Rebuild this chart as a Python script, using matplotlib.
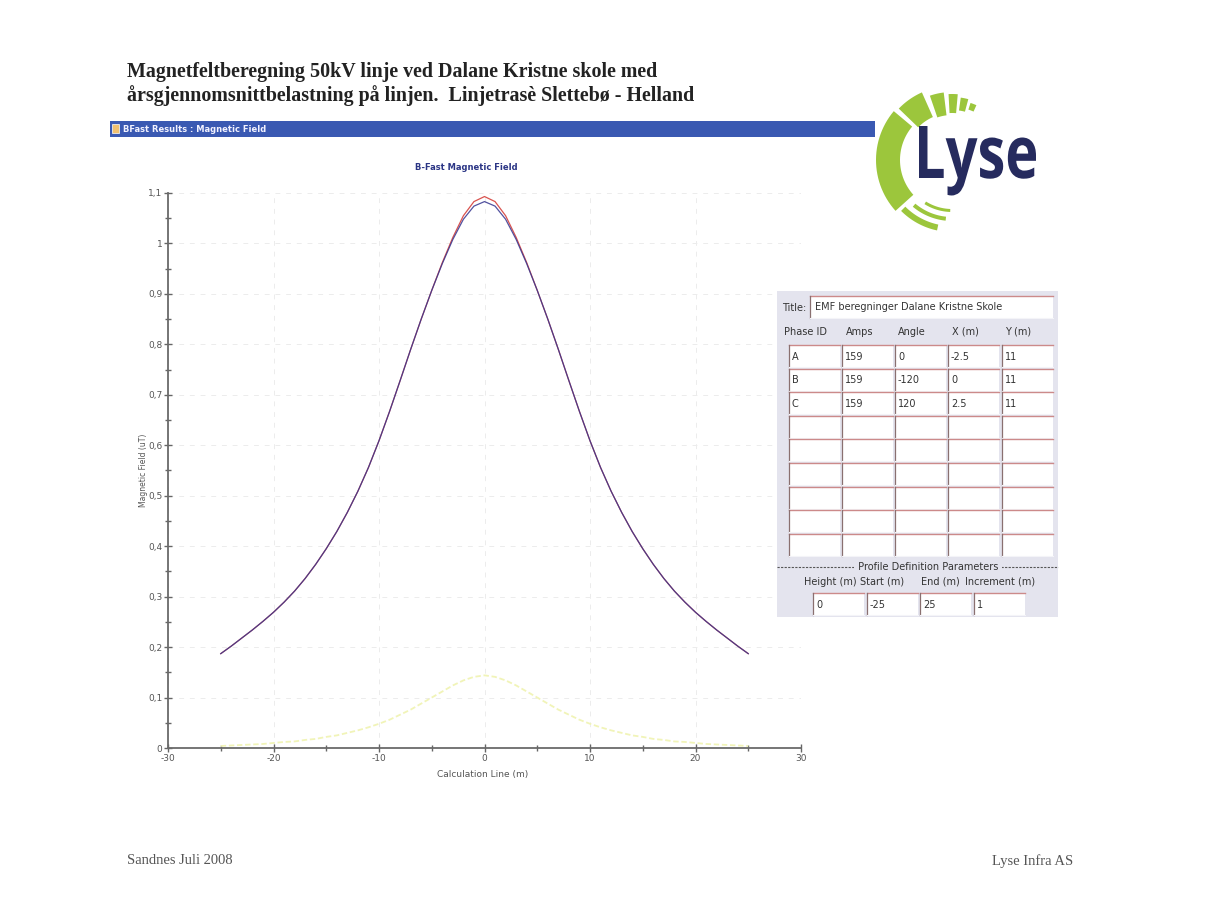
import numpy as np
import matplotlib
matplotlib.use("Agg")
import matplotlib.pyplot as plt
from matplotlib.patches import Rectangle, Polygon, PathPatch
from matplotlib.textpath import TextPath
from matplotlib.font_manager import FontProperties
from matplotlib.transforms import Affine2D

# ---- data ----
x_m = list(range(-25, 26))

b_red = [0.187, 0.202, 0.218, 0.234, 0.251, 0.269, 0.289, 0.311, 0.336, 0.364,
         0.395, 0.429, 0.467, 0.509, 0.556, 0.609, 0.667, 0.728, 0.790, 0.850,
         0.907, 0.962, 1.012, 1.055, 1.083, 1.093, 1.083, 1.055, 1.012, 0.962,
         0.907, 0.850, 0.790, 0.728, 0.667, 0.609, 0.556, 0.509, 0.467, 0.429,
         0.395, 0.364, 0.336, 0.311, 0.289, 0.269, 0.251, 0.234, 0.218, 0.202,
         0.187]

b_blue = [0.187, 0.202, 0.218, 0.234, 0.251, 0.269, 0.289, 0.311, 0.336, 0.364,
          0.395, 0.429, 0.467, 0.509, 0.556, 0.609, 0.667, 0.728, 0.790, 0.850,
          0.907, 0.960, 1.008, 1.048, 1.074, 1.083, 1.074, 1.048, 1.008, 0.960,
          0.907, 0.850, 0.790, 0.728, 0.667, 0.609, 0.556, 0.509, 0.467, 0.429,
          0.395, 0.364, 0.336, 0.311, 0.289, 0.269, 0.251, 0.234, 0.218, 0.202,
          0.187]

b_yellow = [0.004, 0.005, 0.006, 0.007, 0.008, 0.010, 0.012, 0.013, 0.016, 0.018,
            0.022, 0.025, 0.030, 0.035, 0.041, 0.048, 0.056, 0.066, 0.076, 0.088,
            0.100, 0.112, 0.124, 0.134, 0.141, 0.144, 0.141, 0.134, 0.124, 0.112,
            0.100, 0.088, 0.076, 0.066, 0.056, 0.048, 0.041, 0.035, 0.030, 0.025,
            0.022, 0.018, 0.016, 0.013, 0.012, 0.010, 0.008, 0.007, 0.006, 0.005,
            0.004]

x_ticks = [-30, -20, -10, 0, 10, 20, 30]
y_ticks = [0, 0.1, 0.2, 0.3, 0.4, 0.5, 0.6, 0.7, 0.8, 0.9, 1.0, 1.1]

page_title = ["Magnetfeltberegning 50kV linje ved Dalane Kristne skole med",
              "årsgjennomsnittbelastning på linjen.  Linjetrasè Slettebø - Helland"]
footer_left = "Sandnes Juli 2008"
footer_right = "Lyse Infra AS"

calc_title = "EMF beregninger Dalane Kristne Skole"
col_heads = ["Phase ID", "Amps", "Angle", "X (m)", "Y (m)"]
phase_ids = ["A", "B", "C"]
amps = ["159", "159", "159"]
angles = ["0", "-120", "120"]
x_pos = ["-2.5", "0", "2.5"]
y_pos = ["11", "11", "11"]
profile_heads = ["Height (m)", "Start (m)", "End (m)", "Increment (m)"]
profile_vals = ["0", "-25", "25", "1"]

W, H = 1216, 908
fig = plt.figure(figsize=(W / 100, H / 100), dpi=100)
fig.patch.set_facecolor("white")

# ---- chart ----
ax = fig.add_axes([168 / W, 1 - 748 / H, 633 / W, 555 / H])
ax.plot(x_m, b_yellow, color="#f1f4b8", lw=1.3, dashes=(3, 1.5))
ax.plot(x_m, b_red, color="#d9534f", lw=0.9)
ax.plot(x_m, b_blue, color="#34348f", lw=0.9, alpha=0.85)

ax.set_xlim(-30, 30)
ax.set_ylim(0, 1.1)
ax.set_xticks(x_ticks)
ax.set_xticklabels([str(v) for v in x_ticks])
ax.set_yticks(y_ticks)
ax.set_yticklabels([("%g" % round(v, 2)).replace(".", ",") for v in y_ticks])
ax.set_xticks(np.arange(-25, 30, 10), minor=True)
ax.set_yticks(np.arange(0.05, 1.1, 0.1), minor=True)
ax.tick_params(which="major", direction="inout", length=6, width=1, colors="#666666",
               labelsize=6.5, labelcolor="#555555", pad=1)
ax.tick_params(which="minor", direction="inout", length=5, width=1, colors="#666666")
for s in ["top", "right"]:
    ax.spines[s].set_visible(False)
for s in ["left", "bottom"]:
    ax.spines[s].set_color("#6a6a6a")
    ax.spines[s].set_linewidth(1.3)
ax.grid(True, which="major", color="#ececec", lw=0.7, linestyle=(0, (5, 6)))
ax.set_axisbelow(True)

fig.text(143 / W, 1 - 470 / H, "Magnetic Field (uT)", rotation=90, fontsize=5.5,
         color="#555555", ha="center", va="center")
fig.text(483 / W, 1 - 775 / H, "Calculation Line (m)", fontsize=6.5,
         color="#555555", ha="center", va="center")

# ---- overlay in page pixels ----
ov = fig.add_axes([0, 0, 1, 1], zorder=5)
ov.set_xlim(0, W)
ov.set_ylim(H, 0)
ov.axis("off")
ov.patch.set_alpha(0)

ov.text(127, 72, page_title[0], fontsize=14.4, family="Liberation Serif",
        weight="bold", color="#222222", va="center")
ov.text(127, 96, page_title[1], fontsize=14.4, family="Liberation Serif",
        weight="bold", color="#222222", va="center")
ov.text(127, 861, footer_left, fontsize=10.5, family="Liberation Serif",
        color="#555555", va="center")
ov.text(1073, 861, footer_right, fontsize=10.5, family="Liberation Serif",
        color="#555555", va="center", ha="right")

# window bar
ov.add_patch(Rectangle((110, 121), 765, 16, fc="#3a59b2", ec="none"))
ov.add_patch(Rectangle((112, 124), 7, 9, fc="#f0c070", ec="white", lw=0.5))
ov.text(123, 129.5, "BFast Results : Magnetic Field", fontsize=6, weight="bold",
        color="#f2f2ff", va="center")
ov.text(466, 168, "B-Fast Magnetic Field", fontsize=6, weight="bold",
        color="#2b3585", ha="center", va="center")


# logo
def sector(cx, cy, r0, r1, a0, a1):
    t = np.radians(np.linspace(a0, a1, 30))
    outer = np.column_stack([cx + r1 * np.cos(t), cy - r1 * np.sin(t)])
    inner = np.column_stack([cx + r0 * np.cos(t[::-1]), cy - r0 * np.sin(t[::-1])])
    return Polygon(np.vstack([outer, inner]), closed=True, fc="#9cc63c", ec="none")


cx, cy = 952, 160
for r0, r1, a0, a1 in [(52, 76, 140, 222), (47, 74, 114, 136), (45, 68, 97, 109),
                       (47, 66, 85, 93), (50, 63, 75, 82), (53, 60, 66, 72),
                       (66, 72, 225, 258), (57, 61, 230, 264), (49, 52, 238, 268)]:
    ov.add_patch(sector(cx, cy, r0, r1, a0, a1))

fp = FontProperties(family="Open Sans", weight="bold")
tp = TextPath((0, 0), "Lyse", size=1, prop=fp)
ext = tp.get_extents()
capL = TextPath((0, 0), "L", size=1, prop=fp).get_extents().height
sx = 117 / ext.width
sy = 52 / capL
tr = Affine2D().translate(-ext.x0, 0).scale(sx, -sy).translate(919, 178)
ov.add_patch(PathPatch(tr.transform_path(tp), fc="#262b5e", ec="none"))

# input table panel
ov.add_patch(Rectangle((777, 291), 281, 326, fc="#e4e4ee", ec="none"))


def cell(x, y, w, h, txt=""):
    ov.add_patch(Rectangle((x, y), w, h, fc="white", ec="none"))
    ov.plot([x, x + w], [y, y], color="#cc8a8a", lw=1.0)
    ov.plot([x, x], [y, y + h], color="#8a7070", lw=0.9)
    ov.plot([x, x + w], [y + h, y + h], color="#f4f4f8", lw=0.8)
    if txt:
        ov.text(x + 3, y + h / 2 + 0.5, txt, fontsize=7, color="#333333", va="center")


ov.text(782, 308, "Title:", fontsize=7, color="#333333", va="center")
cell(810, 296, 243, 22)
ov.text(815, 307.5, calc_title, fontsize=7, color="#333333", va="center")

col_left = [789, 842, 895, 948, 1002]
head_cx = [805, 860, 912, 965, 1018]
for hx, name in zip(head_cx, col_heads):
    ov.text(hx, 332, name, fontsize=7, color="#333333", ha="center", va="center")

rows = list(zip(phase_ids, amps, angles, x_pos, y_pos))
for i in range(9):
    top = 345 + i * 23.6
    vals = rows[i] if i < len(rows) else [""] * 5
    for cl, v in zip(col_left, vals):
        cell(cl, top, 51, 22, v)

ov.plot([777, 1058], [567, 567], color="#555555", lw=0.8, linestyle=(0, (2, 1.2)))
ov.text(928, 567, " Profile Definition Parameters ", fontsize=7, color="#333333",
        ha="center", va="center",
        bbox=dict(fc="#e4e4ee", ec="none", pad=0.5))
for hx, name in zip([830, 882, 940, 1000], profile_heads):
    ov.text(hx, 582, name, fontsize=7, color="#333333", ha="center", va="center")
for bx, v in zip([813, 867, 920, 974], profile_vals):
    cell(bx, 593, 51, 22, v)

fig.savefig("out.png", dpi=100, facecolor="white")
